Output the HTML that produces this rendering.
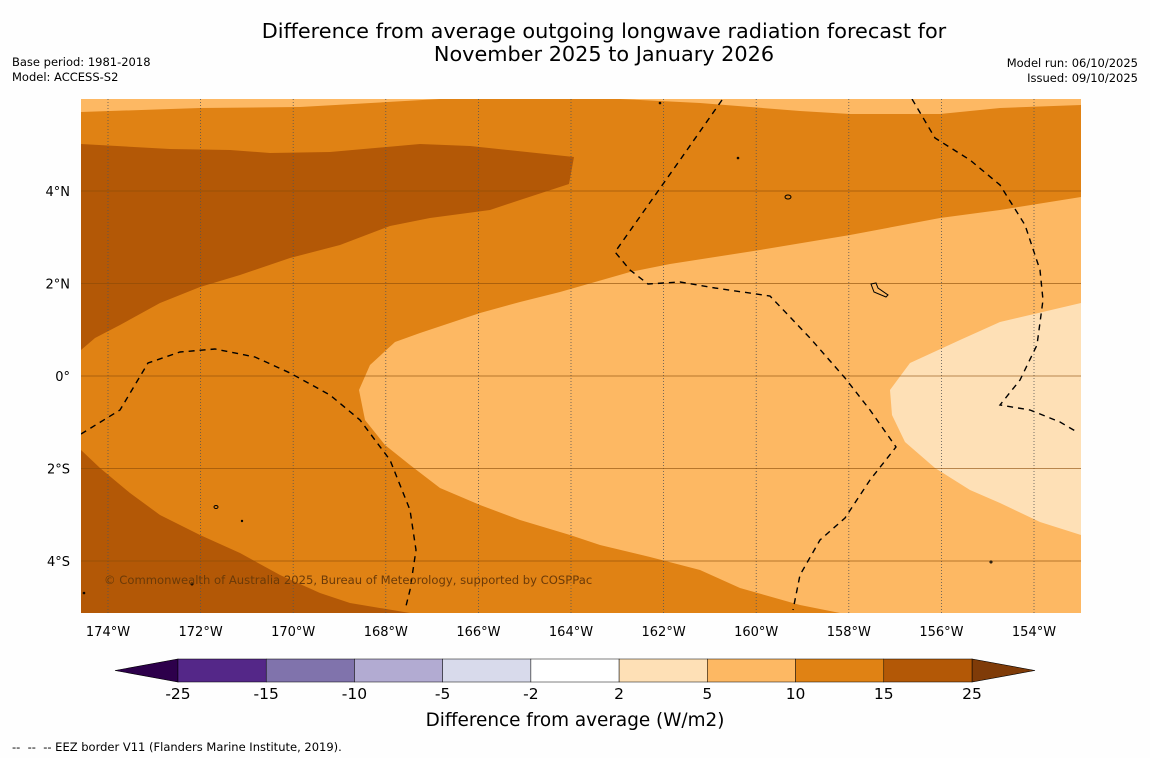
<!DOCTYPE html>
<html><head><meta charset="utf-8"><style>
body{margin:0;background:#fff;font-family:"Liberation Sans","DejaVu Sans",sans-serif;}
svg text{font-family:"DejaVu Sans","Liberation Sans",sans-serif;}
</style></head><body>
<svg id="chart" width="1150" height="758" xmlns="http://www.w3.org/2000/svg">
<rect width="1150" height="758" fill="#fefefe"/>
<text x="604" y="38" font-size="20.8" text-anchor="middle">Difference from average outgoing longwave radiation forecast for</text>
<text x="604" y="61" font-size="20.8" text-anchor="middle">November 2025 to January 2026</text>
<text x="12" y="66" font-size="11.5">Base period: 1981-2018</text>
<text x="12" y="81" font-size="11.5">Model: ACCESS-S2</text>
<text x="1138" y="67" font-size="11.5" text-anchor="end">Model run: 06/10/2025</text>
<text x="1138" y="82" font-size="11.5" text-anchor="end">Issued: 09/10/2025</text>
<defs><clipPath id="mc"><rect x="81" y="99" width="1000" height="514"/></clipPath></defs>
<g clip-path="url(#mc)">
<rect x="81" y="99" width="1000" height="514" fill="#e08214"/>
<polygon fill="#fdb863" points="81,99 1081,99 1081,105 1000,108 940,114 850,114 800,111 700,103 620,99 440,99 300,107 200,108 81,112"/>
<polygon fill="#b35806" points="81,144 170,149 230,150 270,153 330,152 420,144 470,146 574,157 569,184 520,200 490,210 430,218 390,226 340,245 290,258 240,275 200,287 160,303 120,325 95,338 81,350"/>
<polygon fill="#fdb863" points="1081,197 1000,210 940,218 850,235 760,250 670,264 630,272 560,292 520,302 480,313 420,333 395,342 370,365 359,390 365,420 385,445 410,465 440,488 480,505 520,520 570,535 600,545 650,557 700,570 740,588 800,605 840,613 1081,613"/>
<polygon fill="#fee0b6" points="1081,303 1000,322 960,340 910,363 890,390 892,415 905,442 935,468 970,490 1000,503 1040,522 1081,535"/>
<polygon fill="#b35806" points="81,450 100,468 130,493 160,515 200,535 240,553 280,575 320,593 350,603 410,613 81,613"/>
<g id="grid"></g>
<g fill="none" stroke="#000" stroke-width="1.4" stroke-dasharray="6,5">
<polyline points="81,434 120,410 148,363 180,352 215,349 255,357 290,373 330,395 360,420 390,460 410,510 416,550 410,590 405,610"/>
<polyline points="722,100 680,160 615,252 630,270 648,284 680,282 715,288 770,296 810,338 845,378 870,410 896,447 870,480 845,518 820,540 800,575 793,610"/>
<polyline points="912,99 935,138 970,160 1000,185 1025,225 1040,270 1043,300 1037,345 1020,380 1000,405 1030,410 1060,422 1077,432"/>
</g>
<g fill="none" stroke="#000" stroke-width="1">
<ellipse cx="788" cy="197" rx="3" ry="2"/><path d="M871,284 l5,-1 2,5 10,7 -2,2 -12,-5z"/>
<ellipse cx="216" cy="507" rx="2" ry="1.5"/><circle cx="192" cy="584" r="1"/><circle cx="738" cy="158" r="0.8"/><circle cx="991" cy="562" r="1"/><circle cx="660" cy="103" r="0.8"/><circle cx="242" cy="521" r="0.7"/><circle cx="84" cy="593" r="0.8"/>
</g>
<text x="104" y="584" font-size="11.6" fill="#6b3a08">© Commonwealth of Australia 2025, Bureau of Meteorology, supported by COSPPac</text>
</g>
<g id="axes"></g>
<g id="cbar"></g>
<text x="575" y="726" font-size="18.4" text-anchor="middle">Difference from average (W/m2)</text>
<text x="12" y="751" font-size="11.5" xml:space="preserve">--  --  -- EEZ border V11 (Flanders Marine Institute, 2019).</text>
</svg>
<script>
const lonTicks=[-174,-172,-170,-168,-166,-164,-162,-160,-158,-156,-154];
const latTicks=[4,2,0,-2,-4];
const levels=["-25","-15","-10","-5","-2","2","5","10","15","25"];
const colors=["#542788","#8073ac","#b2abd2","#d8daeb","#ffffff","#fee0b6","#fdb863","#e08214","#b35806"];
const extColors=["#2d004b","#7f3b08"];
const NS="http://www.w3.org/2000/svg";
function xLon(l){return 108+(l+174)*46.3;}
function yLat(l){return 376-l*46.25;}
function mk(t,a,p){const e=document.createElementNS(NS,t);for(const k in a)e.setAttribute(k,a[k]);p.appendChild(e);return e;}
const grid=document.getElementById('grid'),axes=document.getElementById('axes'),cb=document.getElementById('cbar');
lonTicks.forEach(l=>{const x=xLon(l);
const ln=mk('line',{x1:x,x2:x,y1:99,y2:613,stroke:'#555',"stroke-width":0.8,"stroke-dasharray":"1,2"},grid);


const t=mk('text',{x:x,y:636,"font-size":13,"text-anchor":"middle"},axes);t.textContent=Math.abs(l)+"°W";

});
latTicks.forEach(l=>{const y=yLat(l);
const ln=mk('line',{x1:81,x2:1081,y1:y,y2:y,stroke:'#8a4a08',"stroke-width":0.8,"stroke-opacity":0.8},grid);


const t=mk('text',{x:70,y:y+5,"font-size":13,"text-anchor":"end"},axes);t.textContent=l==0?"0°":Math.abs(l)+"°"+(l>0?"N":"S");

});
const x0=178,x1=972,seg=(x1-x0)/colors.length,yt=659,yb=682;
const l1=mk('polygon',{points:`115,670.5 ${x0},${yt} ${x0},${yb}`,fill:extColors[0],stroke:'#000',"stroke-width":0.6},cb);


const r1=mk('polygon',{points:`1035,670.5 ${x1},${yt} ${x1},${yb}`,fill:extColors[1],stroke:'#000',"stroke-width":0.6},cb);


colors.forEach((c,i)=>{const r=mk('rect',{x:x0+i*seg,y:yt,width:seg,height:yb-yt,fill:c,stroke:'#000',"stroke-width":0.5},cb);

});
levels.forEach((v,i)=>{const t=mk('text',{x:x0+i*seg,y:699,"font-size":15.5,"text-anchor":"middle"},cb);t.textContent=v;

});
</script>
</body></html>
